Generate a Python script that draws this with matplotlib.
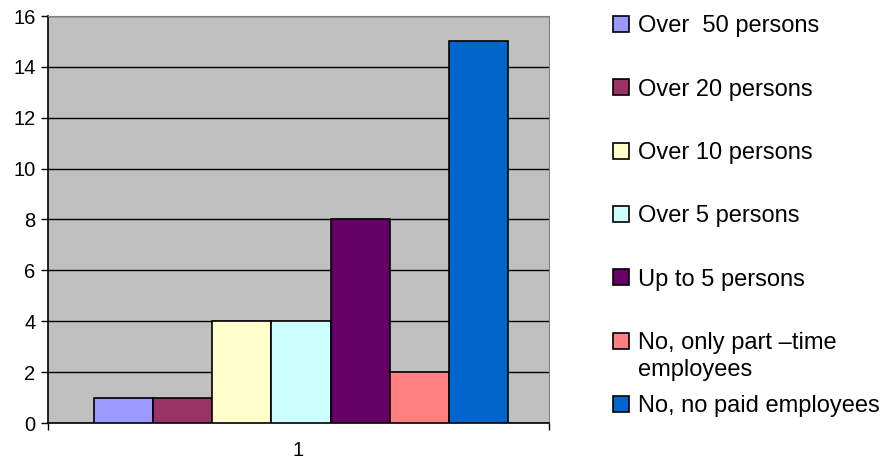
import numpy as np
import matplotlib.pyplot as plt
from matplotlib.patches import Rectangle

plt.rcParams['font.family'] = ['Liberation Sans', 'DejaVu Sans']

# Data
labels = ['Over  50 persons', 'Over 20 persons', 'Over 10 persons', 'Over 5 persons',
          'Up to 5 persons', 'No, only part \u2013time\nemployees', 'No, no paid employees']
values = [1, 1, 4, 4, 8, 2, 15]
colors = ['#9999FF', '#993366', '#FFFFCC', '#CCFFFF', '#660066', '#FF8080', '#0066CC']
category = [1]

W, H = 882, 461
fig = plt.figure(figsize=(W / 100, H / 100), dpi=100)
ax = fig.add_axes([48 / W, 1 - 423 / H, 501 / W, 407 / H])
ax.set_facecolor('#C0C0C0')

n = len(values)
group_w = 0.828
bar_w = group_w / n
for i, (v, c) in enumerate(zip(values, colors)):
    x = category[0] + 0.005 - group_w / 2 + bar_w * (i + 0.5)
    ax.bar(x, v, width=bar_w, color=c, edgecolor='black', linewidth=1.2, zorder=3)

ax.set_xlim(0.5, 1.5)
ax.set_ylim(0, 16)
ax.set_yticks(range(0, 17, 2))
ax.yaxis.grid(True, color='black', linewidth=1, zorder=1)
ax.set_axisbelow(True)

ax.set_xticks([0.5, 1.5])
ax.set_xticklabels(['', ''])
ax.tick_params(axis='x', direction='out', length=5, width=1, color='black')
ax.tick_params(axis='y', direction='out', length=5, width=1, labelsize=14.5, pad=4)
ax.text(category[0], -1.08, str(category[0]), ha='center', va='center', fontsize=14.5)

for s in ['top', 'right']:
    ax.spines[s].set_color('#808080')
for s in ['left', 'bottom']:
    ax.spines[s].set_color('black')
    ax.spines[s].set_linewidth(1.2)

# legend drawn by hand to keep the Excel spacing
fs = 17
y0 = 24
step = 63.3
for i, (lab, c) in enumerate(zip(labels, colors)):
    yc = y0 + i * step
    fig.patches.append(Rectangle((613 / W, 1 - (yc + 8) / H), 16 / W, 16 / H,
                                 transform=fig.transFigure, facecolor=c,
                                 edgecolor='black', linewidth=1.2))
    for j, line in enumerate(lab.split('\n')):
        base = yc + 8.4 + j * 27
        fig.text(638 / W, 1 - base / H, line, fontsize=fs, va='baseline', ha='left')

fig.savefig('out.png', dpi=100)
